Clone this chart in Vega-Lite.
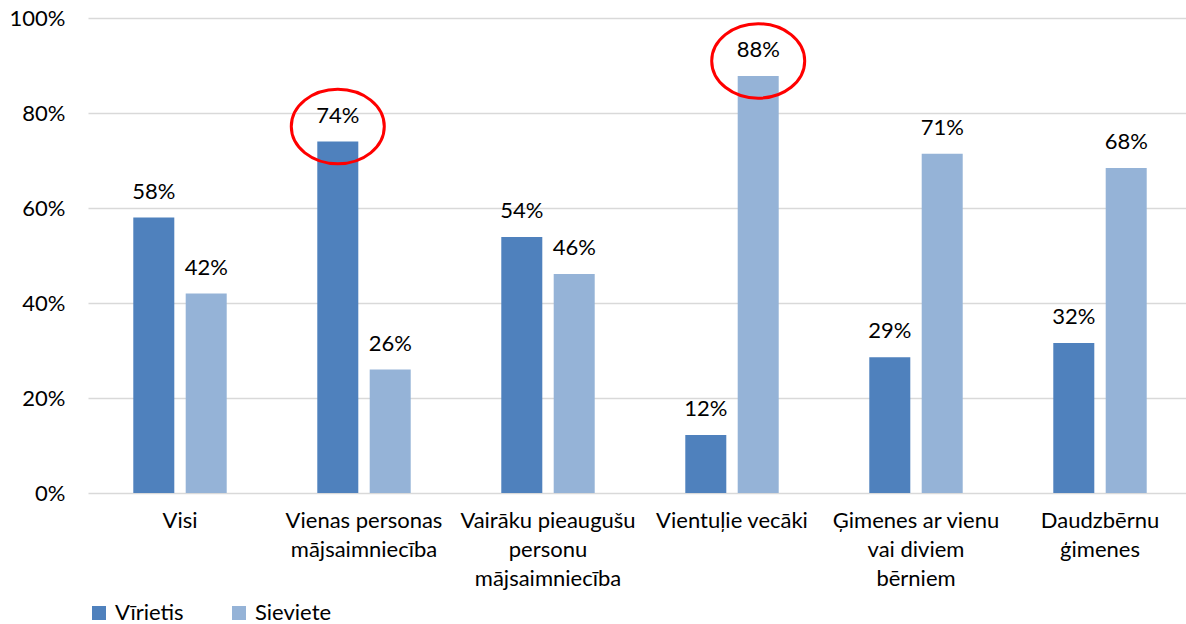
{
  "$schema": "https://vega.github.io/schema/vega-lite/v6.json",
  "width": 1104,
  "height": 475,
  "autosize": "none",
  "padding": {"left": 88, "top": 18, "right": 0, "bottom": 131},
  "background": "white",
  "config": {"view": {"stroke": null}, "font": "Lato"},
  "data": {
    "values": [
      {"category": "Visi", "series": "Vīrietis", "value": 0.58},
      {"category": "Visi", "series": "Sieviete", "value": 0.42},
      {"category": "Vienas personas|mājsaimniecība", "series": "Vīrietis", "value": 0.74},
      {"category": "Vienas personas|mājsaimniecība", "series": "Sieviete", "value": 0.26},
      {"category": "Vairāku pieaugušu|personu|mājsaimniecība", "series": "Vīrietis", "value": 0.539},
      {"category": "Vairāku pieaugušu|personu|mājsaimniecība", "series": "Sieviete", "value": 0.461},
      {"category": "Vientuļie vecāki", "series": "Vīrietis", "value": 0.122},
      {"category": "Vientuļie vecāki", "series": "Sieviete", "value": 0.878},
      {"category": "Ģimenes ar vienu|vai diviem|bērniem", "series": "Vīrietis", "value": 0.286},
      {"category": "Ģimenes ar vienu|vai diviem|bērniem", "series": "Sieviete", "value": 0.714},
      {"category": "Daudzbērnu|ģimenes", "series": "Vīrietis", "value": 0.316},
      {"category": "Daudzbērnu|ģimenes", "series": "Sieviete", "value": 0.684}
    ]
  },
  "encoding": {
    "x": {
      "field": "category",
      "type": "nominal",
      "sort": null,
      "scale": {"paddingInner": 0, "paddingOuter": 0},
      "axis": {
        "title": null,
        "labelAngle": 0,
        "domain": false,
        "ticks": false,
        "labelExpr": "split(datum.label, '|')",
        "labelFontSize": 22,
        "labelLineHeight": 29,
        "labelPadding": 17,
        "labelBaseline": "top",
        "labelColor": "#000000",
        "labelLimit": 0
      }
    },
    "xOffset": {
      "field": "series",
      "type": "nominal",
      "sort": ["Vīrietis", "Sieviete"],
      "scale": {"paddingInner": 0.2176, "paddingOuter": 0.864}
    },
    "y": {
      "field": "value",
      "type": "quantitative",
      "scale": {"domain": [0, 1]},
      "axis": {
        "title": null,
        "values": [0, 0.2, 0.4, 0.6, 0.8, 1],
        "format": ".0%",
        "domain": false,
        "ticks": false,
        "labelPadding": 23,
        "labelFontSize": 22,
        "labelColor": "#000000",
        "gridColor": "#d9d9d9",
        "gridWidth": 1.5
      }
    }
  },
  "layer": [
    {
      "mark": {"type": "bar"},
      "encoding": {
        "color": {
          "field": "series",
          "type": "nominal",
          "sort": ["Vīrietis", "Sieviete"],
          "scale": {"domain": ["Vīrietis", "Sieviete"], "range": ["#4F81BD", "#95B3D7"]},
          "legend": {
            "title": null,
            "orient": "none",
            "legendX": 0,
            "legendY": 584,
            "direction": "horizontal",
            "symbolType": "square",
            "symbolSize": 196,
            "symbolStrokeWidth": 0,
            "labelFontSize": 22,
            "labelColor": "#000000",
            "labelOffset": 5,
            "columnPadding": 44,
            "padding": 0
          }
        }
      }
    },
    {
      "mark": {"type": "text", "baseline": "bottom", "dy": -14, "fontSize": 22, "color": "#000000"},
      "encoding": {"text": {"field": "value", "type": "quantitative", "format": ".0%"}}
    },
    {
      "data": {
        "values": [
          {"category": "Vienas personas|mājsaimniecība", "series": "Vīrietis", "value": 0.74},
          {"category": "Vientuļie vecāki", "series": "Sieviete", "value": 0.878}
        ]
      },
      "mark": {
        "type": "point",
        "shape": "M-1,0A1,0.8 0 1,0 1,0A1,0.8 0 1,0 -1,0Z",
        "size": 8649,
        "filled": false,
        "color": "#ff0000",
        "strokeWidth": 3,
        "opacity": 1,
        "yOffset": -15
      }
    }
  ]
}
